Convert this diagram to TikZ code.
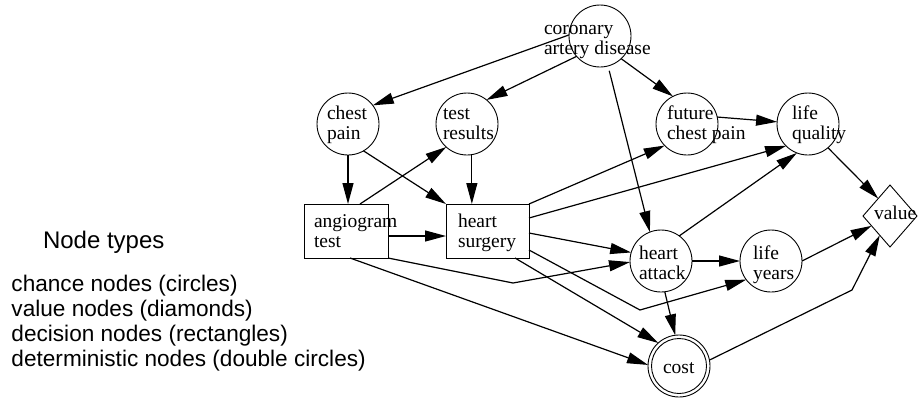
\documentclass[tikz,border=0pt]{standalone}
\usepackage{fontspec}
\setmainfont{Liberation Serif}
\newfontfamily\legfont{Liberation Sans}
\usetikzlibrary{arrows.meta,shapes.geometric}
\tikzset{
  chance/.style={circle,draw,line width=0.9pt,minimum size=62pt,inner sep=0pt,outer sep=0pt},
  decision/.style={rectangle,draw,line width=1pt,inner sep=0pt,outer sep=0pt,minimum height=54pt},
  valuenode/.style={diamond,draw,line width=0.9pt,inner sep=0pt,outer sep=0pt,minimum width=54pt,minimum height=62pt},
  lbl/.style={anchor=west,inner sep=0pt,outer sep=0pt,align=left,font=\fontsize{19.5}{20}\selectfont},
  edge/.style={line width=1.2pt,-{Triangle[length=21pt,width=11pt]}},
  leg/.style={anchor=west,inner sep=0pt,outer sep=0pt,align=left}
}
\begin{document}
\begin{tikzpicture}[x=1pt,y=-1pt]
\useasboundingbox (0,0) rectangle (918,397);
% nodes
\node[chance] (cad) at (600,36) {};
\node[chance] (cp) at (348,124) {};
\node[chance] (tr) at (467,124) {};
\node[chance] (fcp) at (687,124) {};
\node[chance] (lq) at (808,124) {};
\node[chance] (ha) at (661,261) {};
\node[chance] (ly) at (771,261) {};
\node[chance,path picture={\draw[line width=0.9pt] (path picture bounding box.center) circle (27.5pt);}] (cost) at (679,366) {};
\node[valuenode] (val) at (890,216) {};
\node[decision,minimum width=84pt] (ang) at (346,231) {};
\node[decision,minimum width=83pt] (hs) at (487.5,231) {};
% labels
\node[lbl] (cadL) at (544,40) {\strut coronary\\\strut artery disease};
\node[lbl] (cpL) at (327,125) {\strut chest\\\strut pain};
\node[lbl] (trL) at (443,125) {\strut test\\\strut results};
\node[lbl] (fcpL) at (667,125) {\strut future\\\strut chest pain};
\node[lbl] (lqL) at (792,125) {\strut life\\\strut quality};
\node[lbl] (haL) at (639,265) {\strut heart\\\strut attack};
\node[lbl] (lyL) at (753,265) {\strut life\\\strut years};
\node[lbl] (valL) at (874,215) {\strut value};
\node[lbl] (costL) at (663,369) {\strut cost};
\node[lbl] (angL) at (314,233) {\strut angiogram\\\strut test};
\node[lbl] (hsL) at (458,233) {\strut heart\\\strut surgery};
% bends
\coordinate (b1) at (513,283);
\coordinate (b2) at (640,310);
\coordinate (b3) at (852,290);
% edges
\draw[edge] (cad.178) -- (cp.37);
\draw[edge] (cad.221) -- (tr.51);
\draw[edge] (cad.-47) -- (fcp.117);
\draw[edge,shorten <=5pt] (cad.-75) -- (ha.111);
\draw[edge] (cp.south) -- (cp.south |- ang.north);
\draw[edge] (cp.-60) -- (hs.north west);
\draw[edge] ([xshift=14pt]ang.north) -- (tr.228);
\draw[edge] (tr.-81) -- (tr.-81 |- hs.north);
\draw[edge] ([yshift=-5pt]ang.east) -- ([yshift=-5pt]hs.west);
\draw[edge] (hs.north east) -- (fcp.224);
\draw[edge] ([yshift=13pt]hs.east) -- (lq.225);
\draw[edge] ([yshift=-2pt]hs.east) -- (ha.164);
\draw[edge] (ang.south east) -- (b1) -- (ha.182);
\draw[edge] ([yshift=-19pt]hs.east) -- (b2) -- (ly.217);
\draw[edge] ([xshift=27.5pt]hs.south) -- (cost.132);
\draw[edge] ([xshift=4pt]ang.south) -- (cost.178);
\draw[edge] (ha.-83) -- (cost.97);
\draw[edge] (ha.east) -- (ly.west);
\draw[edge] (ha.54) -- (lq.249);
\draw[edge] (fcp.13) -- (lq.176);
\draw[edge] (lq.-50) -- (val.124);
\draw[edge] (ly.east) -- (val.208);
\draw[edge] (cost.11) -- (b3) -- (val.242);
% legend
\node[leg,font=\legfont\fontsize{24}{24}\selectfont] (legT) at (43,243.2) {\strut Node types};
\node[leg,font=\legfont\fontsize{22.6}{24.7}\selectfont] (legB) at (11.5,324.1) {\strut chance nodes (circles)\\\strut value nodes (diamonds)\\\strut decision nodes (rectangles)\\\strut deterministic nodes (double circles)};
\end{tikzpicture}
\end{document}
